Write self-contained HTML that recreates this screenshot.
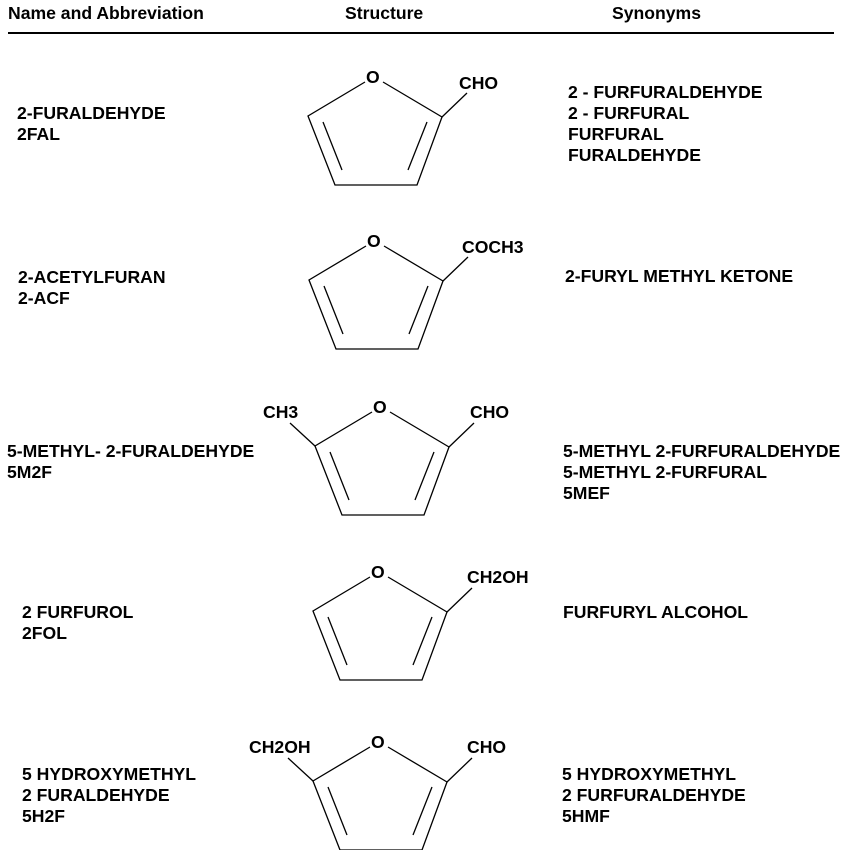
<!DOCTYPE html>
<html><head><style>
body{margin:0;background:#fff}
svg{display:block}
text{font-family:"Liberation Sans",Arial,sans-serif;font-weight:bold;font-size:17.6px;fill:#000}
</style></head><body>
<svg width="844" height="850" viewBox="0 0 844 850">
<text x="8" y="19">Name and Abbreviation</text>
<text x="345" y="19">Structure</text>
<text x="612" y="19">Synonyms</text>
<line x1="8" y1="33" x2="834" y2="33" stroke="#000" stroke-width="2"/>
<g stroke="#000" stroke-width="1.3" fill="none">
<g>
<path d="M365 82 L308 116 L335 185 L417 185 L442 117 L383 82"/>
<line x1="323" y1="122" x2="342" y2="170"/><line x1="427" y1="122" x2="408" y2="170"/>
<line x1="442" y1="117" x2="467" y2="93"/>
</g>
<g transform="translate(1,164)">
<path d="M365 82 L308 116 L335 185 L417 185 L442 117 L383 82"/>
<line x1="323" y1="122" x2="342" y2="170"/><line x1="427" y1="122" x2="408" y2="170"/>
<line x1="442" y1="117" x2="467" y2="93"/>
</g>
<g transform="translate(7,330)">
<path d="M365 82 L308 116 L335 185 L417 185 L442 117 L383 82"/>
<line x1="323" y1="122" x2="342" y2="170"/><line x1="427" y1="122" x2="408" y2="170"/>
<line x1="442" y1="117" x2="467" y2="93"/><line x1="308" y1="116" x2="283" y2="93"/>
</g>
<g transform="translate(5,495)">
<path d="M365 82 L308 116 L335 185 L417 185 L442 117 L383 82"/>
<line x1="323" y1="122" x2="342" y2="170"/><line x1="427" y1="122" x2="408" y2="170"/>
<line x1="442" y1="117" x2="467" y2="93"/>
</g>
<g transform="translate(5,665)">
<path d="M365 82 L308 116 L335 185 L417 185 L442 117 L383 82"/>
<line x1="323" y1="122" x2="342" y2="170"/><line x1="427" y1="122" x2="408" y2="170"/>
<line x1="442" y1="117" x2="467" y2="93"/><line x1="308" y1="116" x2="283" y2="93"/>
</g>
</g>
<text x="366" y="83">O</text>
<text x="367" y="247">O</text>
<text x="373" y="413">O</text>
<text x="371" y="578">O</text>
<text x="371" y="748">O</text>

<text x="459" y="89">CHO</text>
<text x="462" y="253">COCH3</text>
<text x="263" y="418">CH3</text>
<text x="470" y="418">CHO</text>
<text x="467" y="583">CH2OH</text>
<text x="249" y="753">CH2OH</text>
<text x="467" y="753">CHO</text>

<text x="17" y="119">2-FURALDEHYDE</text>
<text x="17" y="140">2FAL</text>
<text x="18" y="283">2-ACETYLFURAN</text>
<text x="18" y="304">2-ACF</text>
<text x="7" y="457">5-METHYL- 2-FURALDEHYDE</text>
<text x="7" y="478">5M2F</text>
<text x="22" y="618">2 FURFUROL</text>
<text x="22" y="639">2FOL</text>
<text x="22" y="780">5 HYDROXYMETHYL</text>
<text x="22" y="801">2 FURALDEHYDE</text>
<text x="22" y="822">5H2F</text>

<text x="568" y="98">2 - FURFURALDEHYDE</text>
<text x="568" y="119">2 - FURFURAL</text>
<text x="568" y="140">FURFURAL</text>
<text x="568" y="161">FURALDEHYDE</text>
<text x="565" y="282">2-FURYL METHYL KETONE</text>
<text x="563" y="457">5-METHYL 2-FURFURALDEHYDE</text>
<text x="563" y="478">5-METHYL 2-FURFURAL</text>
<text x="563" y="499">5MEF</text>
<text x="563" y="618">FURFURYL ALCOHOL</text>
<text x="562" y="780">5 HYDROXYMETHYL</text>
<text x="562" y="801">2 FURFURALDEHYDE</text>
<text x="562" y="822">5HMF</text>
</svg>
</body></html>
